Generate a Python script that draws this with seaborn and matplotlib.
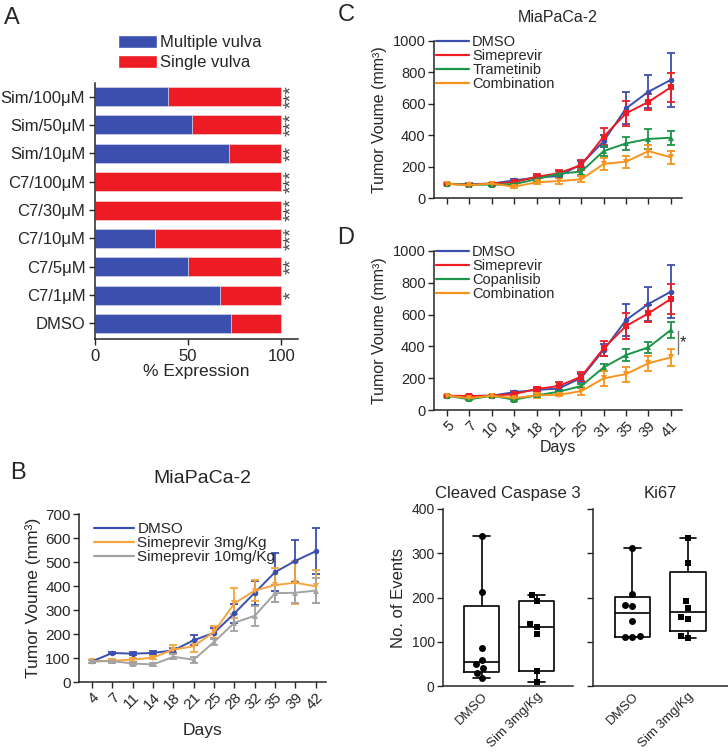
import numpy as np
import matplotlib
matplotlib.use('Agg')
import matplotlib.pyplot as plt
import seaborn as sns
from matplotlib.patches import Patch
from matplotlib.lines import Line2D

# Configuração estética geral
sns.set_style('ticks')
plt.rcParams['font.family'] = ['Liberation Sans', 'DejaVu Sans']
plt.rcParams['axes.linewidth'] = 1.1
plt.rcParams['xtick.major.width'] = 1.0
plt.rcParams['ytick.major.width'] = 1.0

# --- dados do painel A ---
a_grupos = ['Sim/100μM', 'Sim/50μM', 'Sim/10μM', 'C7/100μM', 'C7/30μM',
            'C7/10μM', 'C7/5μM', 'C7/1μM', 'DMSO']
a_multipla = [39, 52, 72, 0, 0, 32, 50, 67, 73]
a_total = [100, 100, 100, 100, 100, 100, 100, 100, 100]
a_estrelas = ['***', '***', '**', '***', '***', '***', '**', '*', '']

# --- dados do painel B ---
b_dias = [4, 7, 11, 14, 18, 21, 25, 28, 32, 35, 39, 42]
b_dmso = [86, 121, 118, 121, 132, 174, 205, 286, 372, 458, 505, 545]
b_dmso_err = [6, 6, 6, 8, 10, 20, 20, 40, 50, 78, 87, 97]
b_sim3 = [86, 89, 93, 102, 135, 149, 209, 328, 381, 404, 414, 398]
b_sim3_err = [6, 6, 8, 8, 20, 22, 25, 62, 45, 70, 90, 70]
b_sim10 = [86, 87, 77, 73, 105, 93, 167, 247, 276, 370, 372, 381]
b_sim10_err = [5, 6, 8, 6, 10, 12, 12, 35, 42, 35, 42, 53]

# --- dados dos painéis C e D ---
cd_dias = [5, 7, 10, 14, 18, 21, 25, 31, 35, 39, 41]
c_dmso = [90, 88, 92, 112, 130, 140, 215, 362, 571, 677, 752]
c_dmso_err = [6, 6, 6, 10, 10, 15, 20, 40, 102, 106, 170]
c_sime = [90, 85, 92, 100, 135, 158, 210, 391, 539, 612, 705]
c_sime_err = [6, 6, 6, 10, 15, 20, 30, 53, 81, 53, 91]
c_tram = [90, 85, 85, 88, 120, 155, 168, 299, 348, 376, 384]
c_tram_err = [6, 6, 6, 8, 10, 15, 20, 32, 43, 63, 45]
c_comb = [90, 82, 92, 72, 100, 108, 119, 217, 231, 299, 259]
c_comb_err = [6, 6, 6, 8, 12, 20, 20, 36, 37, 39, 42]

d_dmso = [88, 88, 90, 112, 126, 135, 203, 377, 566, 667, 744]
d_dmso_err = [6, 6, 6, 10, 10, 15, 25, 35, 101, 109, 168]
d_sime = [90, 88, 90, 100, 132, 151, 210, 388, 528, 608, 698]
d_sime_err = [6, 6, 6, 10, 15, 25, 30, 48, 84, 52, 92]
d_copa = [90, 67, 90, 65, 92, 115, 151, 268, 346, 394, 503]
d_copa_err = [6, 6, 6, 8, 10, 12, 15, 20, 36, 34, 53]
d_comb = [90, 75, 90, 75, 92, 95, 119, 199, 226, 294, 331]
d_comb_err = [6, 6, 6, 8, 15, 10, 25, 48, 47, 46, 53]

# --- dados dos boxplots ---
box_grupos = ['DMSO', 'Sim 3mg/Kg']
casp_dmso = [338, 212, 86, 59, 49, 41, 30, 17]
casp_sim = [205, 193, 139, 134, 118, 34, 8]
ki67_dmso = [311, 208, 183, 180, 148, 113, 111, 111]
ki67_sim = [334, 279, 192, 177, 157, 152, 114, 109]

# cores
AZUL = '#3a4fae'
VERMELHO = '#ed1c24'
VERDE = '#1b9548'
LARANJA = '#f7941d'
LARANJA_B = '#f6a540'
CINZA = '#a3a3a3'

W, H = 728, 752
fig = plt.figure(figsize=(W / 100, H / 100), dpi=100)


def caixa(l, t, r, b):
    # converte pixels (origem no topo) para coordenadas da figura
    return [l / W, 1 - b / H, (r - l) / W, (b - t) / H]


# --- A: barras empilhadas ---
axA = fig.add_axes(caixa(95, 83, 298, 339))
sns.barplot(x=a_total, y=a_grupos, orient='h', color=VERMELHO, width=0.67,
            edgecolor='#f3c6c8', linewidth=0.6, saturation=1, ax=axA)
sns.barplot(x=a_multipla, y=a_grupos, orient='h', color=AZUL, width=0.67,
            edgecolor='#c9d0ea', linewidth=0.6, saturation=1, ax=axA)
for i, s in enumerate(a_estrelas):
    axA.text(105.5, i, s, rotation=90, ha='center', va='center',
             fontsize=14, color='#444444')
axA.set_xlim(0, 109)
axA.set_ylim(8.55, -0.48)
axA.set_xticks([0, 50, 100])
axA.set_xlabel('% Expression', fontsize=12.5, labelpad=0)
axA.set_ylabel('')
axA.tick_params(axis='both', labelsize=12, length=4, pad=3)
sns.despine(ax=axA)
fig.legend(handles=[Patch(facecolor=AZUL, label='Multiple vulva'),
                    Patch(facecolor=VERMELHO, label='Single vulva')],
           loc='upper left', bbox_to_anchor=(110 / W, 1 - 27 / H),
           frameon=False, fontsize=12, handlelength=2.3, handleheight=0.75,
           handletextpad=0.2, labelspacing=0.3, borderpad=0)


# --- curvas de crescimento ---
def curva(ax, dias, series, fs):
    pos = np.arange(len(dias))
    alcas = []
    for nome, vals, errs, cor, mk, ms in series:
        ax.errorbar(pos, vals, yerr=errs, fmt='none', ecolor=cor,
                    elinewidth=1.3, capsize=2.6, capthick=1.3, zorder=2)
        sns.lineplot(x=pos, y=vals, color=cor, marker=mk, markersize=ms,
                     markeredgewidth=0, linewidth=1.4, ax=ax, zorder=3)
        alcas.append(Line2D([], [], color=cor, lw=1.6, label=nome))
    ax.set_xticks(pos)
    ax.set_xlim(-0.58, len(dias) - 0.5)
    ax.tick_params(axis='both', labelsize=fs, length=4, pad=2)
    sns.despine(ax=ax)
    return alcas


# C
axC = fig.add_axes(caixa(434, 41, 682, 198))
alcas_c = curva(axC, cd_dias, [
    ('DMSO', c_dmso, c_dmso_err, AZUL, 'o', 4),
    ('Simeprevir', c_sime, c_sime_err, VERMELHO, 's', 4.5),
    ('Trametinib', c_tram, c_tram_err, VERDE, '^', 4),
    ('Combination', c_comb, c_comb_err, LARANJA, 'v', 4)], 10.5)
axC.set_ylim(0, 1000)
axC.set_yticks(range(0, 1001, 200))
axC.set_xticklabels([])
axC.set_ylabel('Tumor Voume (mm³)', fontsize=11.5, labelpad=4)
axC.set_title('MiaPaCa-2', fontsize=11.5, pad=14)

# D
axD = fig.add_axes(caixa(434, 251, 682, 410))
alcas_d = curva(axD, cd_dias, [
    ('DMSO', d_dmso, d_dmso_err, AZUL, 'o', 4),
    ('Simeprevir', d_sime, d_sime_err, VERMELHO, 's', 4.5),
    ('Copanlisib', d_copa, d_copa_err, VERDE, '^', 4),
    ('Combination', d_comb, d_comb_err, LARANJA, 'v', 4)], 10.5)
axD.set_ylim(0, 1000)
axD.set_yticks(range(0, 1001, 200))
axD.set_xticklabels(cd_dias, rotation=45, ha='right', rotation_mode='anchor')
axD.set_ylabel('Tumor Voume (mm³)', fontsize=11.5, labelpad=4)
axD.set_xlabel('Days', fontsize=11.5)
axD.xaxis.set_label_coords(0.5, -0.19)
axD.plot([10.32, 10.32], [352, 500], color='#777777', lw=1, clip_on=False)
axD.text(10.56, 425, '*', fontsize=12, ha='center', va='center')

for ax, alcas in ((axC, alcas_c), (axD, alcas_d)):
    ax.legend(handles=alcas, loc='upper left', bbox_to_anchor=(0.01, 1.04),
              frameon=False, fontsize=10.5, handlelength=2.2,
              handletextpad=0.25, labelspacing=0.0, borderpad=0,
              borderaxespad=0)

# B
axB = fig.add_axes(caixa(79, 514, 326, 682))
alcas_b = curva(axB, b_dias, [
    ('DMSO', b_dmso, b_dmso_err, AZUL, 'o', 4),
    ('Simeprevir 3mg/Kg', b_sim3, b_sim3_err, LARANJA_B, 'v', 4),
    ('Simeprevir 10mg/Kg', b_sim10, b_sim10_err, CINZA, '^', 4)], 11)
axB.set_ylim(0, 700)
axB.set_yticks(range(0, 701, 100))
axB.set_xlim(-0.64, 11.5)
axB.set_xticklabels(b_dias, rotation=45, ha='right', rotation_mode='anchor')
axB.set_ylabel('Tumor Voume (mm³)', fontsize=12.5, labelpad=3)
axB.set_xlabel('Days', fontsize=12.5)
axB.xaxis.set_label_coords(0.5, -0.245)
axB.set_title('MiaPaCa-2', fontsize=14, pad=22)
axB.legend(handles=alcas_b, loc='upper left', bbox_to_anchor=(0.06, 0.95),
           frameon=False, fontsize=11, handlelength=2.6, handletextpad=0.25,
           labelspacing=0.0, borderpad=0, borderaxespad=0)


# --- boxplots (quartis pelo método do GraphPad) ---
def estat(v):
    q1, med, q3 = np.percentile(v, [25, 50, 75], method='weibull')
    return dict(med=med, q1=q1, q3=q3, whislo=min(v), whishi=max(v), fliers=[])


def caixas(ax, dmso, sim, titulo):
    sns.swarmplot(x=['DMSO'] * len(dmso), y=dmso, order=box_grupos,
                  color='black', marker='o', size=5, ax=ax, zorder=4)
    sns.swarmplot(x=['Sim 3mg/Kg'] * len(sim), y=sim, order=box_grupos,
                  color='black', marker='s', size=5, ax=ax, zorder=4)
    lp = dict(color='black', lw=1.2)
    ax.bxp([estat(dmso), estat(sim)], positions=[0, 1], widths=0.64,
           showfliers=False, manage_ticks=False, boxprops=lp,
           whiskerprops=lp, capprops=lp, medianprops=lp, capwidths=0.3)
    ax.set_ylim(0, 400)
    ax.set_yticks(range(0, 401, 100))
    ax.set_xticks([0, 1])
    ax.set_xticklabels(box_grupos, rotation=45, ha='right',
                       rotation_mode='anchor')
    ax.tick_params(axis='x', length=0, labelsize=9.5, pad=3)
    ax.tick_params(axis='y', labelsize=10, length=4, pad=2)
    ax.set_title(titulo, fontsize=12, pad=8)
    sns.despine(ax=ax)


axK = fig.add_axes(caixa(443, 509, 573, 686))
caixas(axK, casp_dmso, casp_sim, 'Cleaved Caspase 3')
axK.set_xlim(-0.7, 1.66)
axK.set_ylabel('No. of Events', fontsize=12, labelpad=4)

axI = fig.add_axes(caixa(593, 509, 728, 686))
caixas(axI, ki67_dmso, ki67_sim, 'Ki67')
axI.set_xlim(-0.71, 1.72)
axI.set_yticklabels([])
axI.set_ylabel('')

# letras dos painéis
for letra, x, y in [('A', 12, 18), ('C', 346, 15), ('D', 346, 238), ('B', 18, 473)]:
    fig.text(x / W, 1 - y / H, letra, fontsize=17, ha='center', va='center')

fig.savefig('out.png', dpi=100)
